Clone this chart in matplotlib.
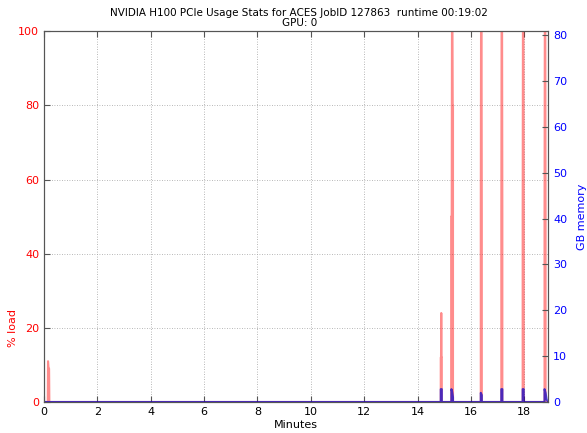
import matplotlib
matplotlib.use("Agg")
import matplotlib.pyplot as plt
import numpy as np

# GPU load (%) samples, minutes
t_load = [0.0, 0.14, 0.15, 0.17, 0.19, 0.20,
          14.87, 14.87, 14.88, 14.89, 14.90, 14.91, 14.91,
          15.26, 15.26, 15.28, 15.29, 15.31, 15.32, 15.33, 15.33,
          16.37, 16.37, 16.38, 16.40, 16.41, 16.41,
          17.14, 17.14, 17.15, 17.17, 17.18, 17.18,
          17.94, 17.94, 17.95, 17.97, 17.98, 17.98,
          18.76, 18.76, 18.77, 18.79, 18.80, 18.80, 18.9]
load = [0, 0, 11, 9, 9, 0,
        0, 12, 12, 24, 12, 12, 0,
        0, 50, 50, 100, 100, 80, 80, 0,
        0, 50, 100, 100, 50, 0,
        0, 50, 100, 100, 50, 0,
        0, 50, 100, 100, 50, 0,
        0, 50, 100, 100, 50, 0, 0]

# GPU memory (GB) samples, minutes
t_mem = [0.0, 14.87, 14.87, 14.91, 14.91,
         15.27, 15.27, 15.30, 15.33, 15.33,
         16.37, 16.37, 16.41, 16.41,
         17.14, 17.14, 17.18, 17.18,
         17.94, 17.94, 17.98, 17.98,
         18.76, 18.76, 18.80, 18.84, 18.9]
mem = [0, 0, 2.8, 2.8, 0,
       0, 2.8, 2.2, 1.0, 0,
       0, 2.0, 1.5, 0,
       0, 2.8, 2.8, 0,
       0, 2.8, 2.8, 0,
       0, 2.8, 2.0, 0.5, 0]

fig = plt.figure(figsize=(5.87, 4.33), dpi=100)
ax = fig.add_axes([0.075, 0.0716, 0.859, 0.8564])
ax.plot(t_load, load, color="#ff0000", lw=1.5, alpha=0.45)
ax.set_xlim(0, 18.9)
ax.set_ylim(0, 100)
ax.set_xticks(np.arange(0, 19, 2))
ax.set_yticks(np.arange(0, 101, 20))
ax.grid(True, color="#a0a0a0", linestyle=(0, (1, 2)), lw=0.6)
ax.tick_params(direction="in", length=4, labelsize=8, top=True, color="#555555")
ax.tick_params(axis="y", colors="#555555", labelcolor="#ff0000")
ax.set_xlabel("Minutes", fontsize=8, labelpad=2)
ax.set_ylabel("% load", fontsize=8, color="#ff0000")
ax.yaxis.set_label_coords(-0.052, 0.2)
for s in ax.spines.values():
    s.set_color("#555555")

ax2 = ax.twinx()
ax2.plot(t_mem, mem, color="#0000cc", lw=1.5, alpha=0.7)
ax2.set_ylim(0, 80.9)
ax2.set_yticks(np.arange(0, 81, 10))
ax2.tick_params(direction="in", length=4, labelsize=8, color="#555555", labelcolor="#0000ff")
ax2.set_ylabel("GB memory", fontsize=8, color="#0000ff")
ax2.yaxis.set_label_coords(1.057, 0.5)
for s in ax2.spines.values():
    s.set_color("#555555")

fig.text(0.51, 0.958, "NVIDIA H100 PCIe Usage Stats for ACES JobID 127863  runtime 00:19:02\nGPU: 0",
         ha="center", va="center", fontsize=7.5, linespacing=1.0)

fig.savefig("out.png", dpi=100)
